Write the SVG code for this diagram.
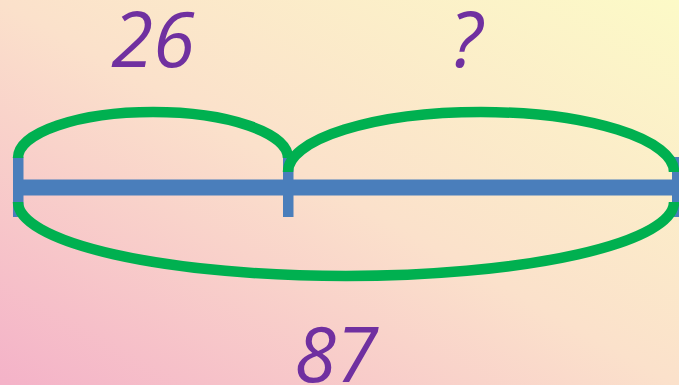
<svg xmlns="http://www.w3.org/2000/svg" width="679" height="385" viewBox="0 0 679 385">
<defs>
<linearGradient id="bg" x1="0" y1="1" x2="1" y2="0">
<stop offset="0" stop-color="#F4B2C8"/>
<stop offset="0.5" stop-color="#FBE1CB"/>
<stop offset="1" stop-color="#FCFAC7"/>
</linearGradient>
<style>
.lbl{font-family:"Open Sans","Liberation Sans",sans-serif;font-style:italic;font-size:76px;fill:#7030A0;text-anchor:middle}
.arc{fill:none;stroke:#00B050;stroke-width:10.5}
.bar{fill:#4A7EBB}
</style>
</defs>
<rect width="679" height="385" fill="url(#bg)"/>
<g id="bar">
<rect class="bar" x="13" y="179.5" width="670" height="16"/>
<rect class="bar" x="13" y="157" width="10.5" height="60"/>
<rect class="bar" x="283" y="157" width="10.5" height="60"/>
<rect class="bar" x="672" y="157" width="10.5" height="60"/>
</g>
<g id="connectors">
<path class="arc" d="M18,158 A135,46 0 0 1 288,158"/>
<path class="arc" d="M288,172 A193,60 0 0 1 674,172"/>
<path class="arc" d="M18,202 A328,74 0 0 0 674,202"/>
</g>
<g id="label-26"><text class="lbl" x="153" y="67">26</text></g>
<g id="label-q"><text class="lbl" x="466" y="67">?</text></g>
<g id="label-87"><text class="lbl" x="336" y="382">87</text></g>
</svg>
